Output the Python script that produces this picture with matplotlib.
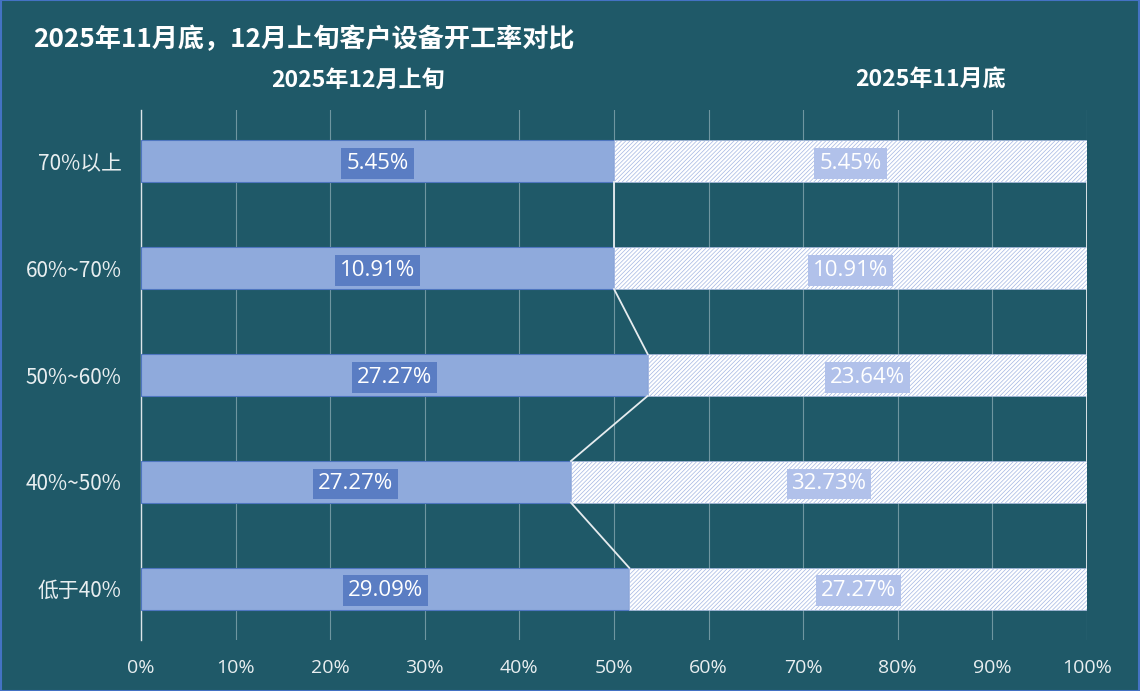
import numpy as np
import matplotlib.pyplot as plt
from matplotlib.patches import Rectangle

plt.rcParams['font.family'] = ['Open Sans', 'Noto Sans CJK SC', 'DejaVu Sans']
plt.rcParams['hatch.linewidth'] = 0.5

# data
categories = ['70%以上', '60%~70%', '50%~60%', '40%~50%', '低于40%']
dec_vals = np.array([5.45, 10.91, 27.27, 27.27, 29.09])   # 2025年12月上旬
nov_vals = np.array([5.45, 10.91, 23.64, 32.73, 27.27])   # 2025年11月底
series_names = ['2025年12月上旬', '2025年11月底']

bg = '#1F5968'
solid = '#8FAADC'

share = dec_vals / (dec_vals + nov_vals)
y = np.arange(len(categories))
h = 0.39

fig = plt.figure(figsize=(11.4, 6.91), dpi=100, facecolor=bg)
ax = fig.add_axes([141 / 1140, 51 / 691, 946 / 1140, 530 / 691])
ax.set_facecolor(bg)

ax.barh(y, share, height=h, color=solid, edgecolor='#4F76C0', linewidth=0.8, zorder=3)
ax.barh(y, 1 - share, left=share, height=h, color='white', edgecolor='#A3B6E2',
        hatch='////////', linewidth=0.4, zorder=3)

# series lines between bars
for i in range(len(y) - 1):
    ax.plot([share[i], share[i + 1]], [y[i] + h / 2, y[i + 1] - h / 2],
            color='#E6ECEF', lw=1.3, zorder=4)
    ax.plot([1, 1], [y[i] + h / 2, y[i + 1] - h / 2], color='#E6ECEF', lw=1.3, zorder=4)

# data labels
for i in range(len(y)):
    ax.text(share[i] / 2, y[i] + 0.02, f'{dec_vals[i]:.2f}%', ha='center', va='center',
            color='white', fontsize=16, zorder=5,
            bbox=dict(boxstyle='square,pad=0.22', fc='#5A7DC3', ec='none'))
    ax.text(share[i] + (1 - share[i]) / 2, y[i] + 0.02, f'{nov_vals[i]:.2f}%', ha='center',
            va='center', color='white', fontsize=16, zorder=5,
            bbox=dict(boxstyle='square,pad=0.22', fc='#B1C1EA', ec='none'))

ax.set_xlim(0, 1)
ax.set_ylim(len(y) - 0.52, -0.48)
ax.set_xticks(np.arange(0, 1.01, 0.1))
ax.set_xticklabels([f'{int(round(t * 100))}%' for t in np.arange(0, 1.01, 0.1)],
                   color='#E8EEF0', fontsize=14)
ax.set_yticks(y)
ax.set_yticklabels(categories, color='#E8EEF0', fontsize=15,
                   family=['Noto Sans CJK SC', 'DejaVu Sans'])
ax.tick_params(axis='x', length=0, pad=14)
ax.tick_params(axis='y', length=0, pad=14)
ax.grid(axis='x', color='#6F96A0', lw=0.8)
ax.set_axisbelow(True)
for s in ['top', 'right', 'bottom']:
    ax.spines[s].set_visible(False)
ax.spines['left'].set_color('#DCE5E9')
ax.spines['left'].set_linewidth(1)

fig.text(33 / 1140, 1 - 40 / 691, '2025年11月底，12月上旬客户设备开工率对比', color='white',
         fontsize=18.8, fontweight='bold', va='center',
         family=['Noto Sans CJK SC', 'DejaVu Sans'])
fig.text(358 / 1140, 1 - 80 / 691, series_names[0], color='white', fontsize=16.6,
         fontweight='bold', ha='center', va='center',
         family=['Noto Sans CJK SC', 'DejaVu Sans'])
fig.text(931 / 1140, 1 - 80 / 691, series_names[1], color='white', fontsize=16.6,
         fontweight='bold', ha='center', va='center',
         family=['Noto Sans CJK SC', 'DejaVu Sans'])

fig.patches.append(Rectangle((0.0005, 0.0007), 0.999, 0.9986, transform=fig.transFigure,
                             fill=False, ec='#4472C4', lw=1.5))

fig.savefig('out.png', dpi=100, facecolor=bg)
